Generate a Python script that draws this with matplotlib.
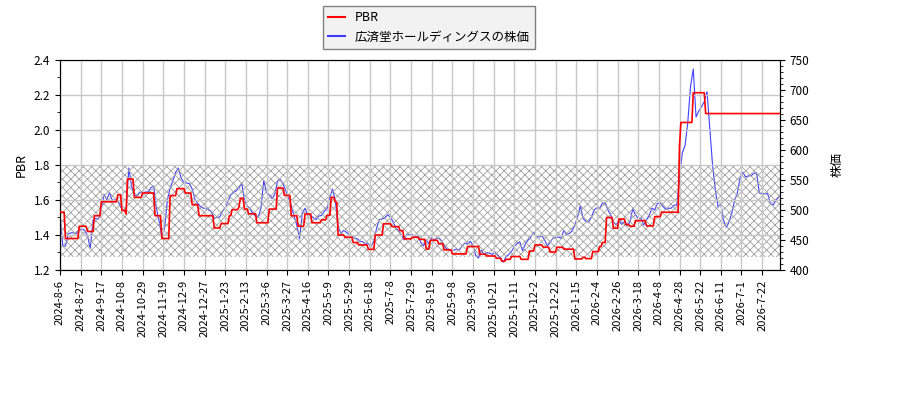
import numpy as np
import matplotlib
matplotlib.use("Agg")
import matplotlib.pyplot as plt
from matplotlib.ticker import MultipleLocator

plt.rcParams['font.family'] = ['Noto Sans CJK JP', 'DejaVu Sans']
plt.rcParams['hatch.linewidth'] = 0.6

# 株価 (2営業日ごとに読み取り)
price = [495, 440, 440, 460, 462, 462, 461, 467, 468, 466, 457, 436, 483, 486, 485,
         500, 526, 517, 529, 516, 517, 515, 505, 500, 500, 570, 539, 525, 524, 530,
         528, 530, 530, 537, 540, 503, 481, 455, 470, 517, 537, 549, 563, 570,
         553, 546, 545, 544, 535, 518, 511, 506, 503, 503, 500, 497, 486, 488, 488,
         498, 504, 514, 525, 529, 532, 537, 545, 516, 507, 502, 494, 490, 488, 503,
         549, 529, 525, 519, 526, 548, 551, 543, 532, 520, 507, 490, 475,
         452, 495, 503, 491, 491, 487, 484, 490, 491, 498, 502, 521, 535, 515, 472,
         461, 466, 463, 459, 457, 453, 452, 448, 447, 443, 444, 439, 449, 470, 484,
         485, 487, 492, 488, 480, 470, 465, 458, 450, 460, 459, 459, 455, 458,
         446, 440, 450, 444, 454, 450, 454, 452, 445, 437, 434, 433, 433, 435, 433,
         440, 445, 443, 448, 441, 424, 420, 433, 426, 429, 428, 426, 430, 425, 420,
         413, 422, 426, 431, 439, 444, 447, 432, 443, 450, 455, 463, 456,
         455, 457, 450, 440, 446, 453, 454, 455, 453, 466, 459, 461, 465, 475, 489,
         507, 486, 481, 480, 488, 500, 504, 503, 511, 512, 500, 492, 480, 475, 483,
         476, 481, 474, 480, 502, 492, 486, 486, 475, 484, 491, 503, 500, 511,
         512, 506, 501, 503, 503, 508, 508, 552, 595, 607, 646, 706, 735, 655, 665,
         672, 681, 697, 635, 575, 534, 505, 510, 483, 471, 480, 495, 516, 528, 554,
         563, 555, 557, 557, 561, 562, 528, 528, 527, 527, 511, 508, 516, 521]

# PBR (変化した営業日と値)
pbr_start = [0, 4, 14, 20, 25, 30, 42, 45, 48, 49, 54, 60, 69, 74, 80, 85, 91, 96,
             101, 112, 117, 123, 125, 130, 131, 134, 137, 143, 152, 158, 163, 168,
             173, 178, 183, 190, 194, 197, 200, 202, 207, 213, 217, 224, 229, 235,
             241, 247, 250, 256, 261, 266, 269, 275, 279, 285, 296, 305, 310, 317,
             321, 324, 328, 335, 341, 345, 351, 356, 361, 366, 374, 380, 382, 387,
             392, 394, 397, 402, 406, 411, 414, 418, 426, 432, 437, 450, 451, 460, 469]
pbr_level = [1.53, 1.38, 1.45, 1.42, 1.51, 1.59, 1.63, 1.54, 1.52, 1.72, 1.615, 1.64,
             1.51, 1.38, 1.625, 1.665, 1.64, 1.573, 1.51, 1.44, 1.465, 1.51, 1.545,
             1.56, 1.61, 1.548, 1.521, 1.47, 1.548, 1.668, 1.626, 1.51, 1.45, 1.52,
             1.47, 1.487, 1.512, 1.615, 1.588, 1.40, 1.387, 1.357, 1.343, 1.318, 1.40,
             1.464, 1.448, 1.425, 1.378, 1.387, 1.375, 1.32, 1.37, 1.35, 1.315, 1.292,
             1.334, 1.29, 1.28, 1.267, 1.25, 1.261, 1.277, 1.261, 1.309, 1.343, 1.33,
             1.303, 1.33, 1.319, 1.263, 1.273, 1.265, 1.305, 1.334, 1.357, 1.50,
             1.439, 1.491, 1.46, 1.45, 1.482, 1.452, 1.505, 1.53, 1.91, 2.043, 2.213,
             2.094]
n_days = 524

tick_labels = ['2024-8-6', '2024-8-27', '2024-9-17', '2024-10-8', '2024-10-29',
               '2024-11-19', '2024-12-9', '2024-12-27', '2025-1-23', '2025-2-13',
               '2025-3-6', '2025-3-27', '2025-4-16', '2025-5-9', '2025-5-29',
               '2025-6-18', '2025-7-8', '2025-7-29', '2025-8-19', '2025-9-8',
               '2025-9-30', '2025-10-21', '2025-11-11', '2025-12-2', '2025-12-22',
               '2026-1-15', '2026-2-4', '2026-2-26', '2026-3-18', '2026-4-8',
               '2026-4-28', '2026-5-22', '2026-6-11', '2026-7-1', '2026-7-22']
tick_step = 15

pbr_band = (1.275, 1.795)

# 日次PBRに展開
lengths = np.diff(pbr_start + [n_days])
pbr = np.repeat(pbr_level, lengths)
days = np.arange(n_days)
price_days = np.arange(len(price)) * 2

fig = plt.figure(figsize=(9, 4), dpi=100)
ax = fig.add_axes([60 / 900, 130 / 400, 720 / 900, 210 / 400])
ax2 = ax.twinx()
ax.set_zorder(ax2.get_zorder() + 1)
ax.patch.set_visible(False)

ax.axhspan(pbr_band[0], pbr_band[1], facecolor='none', edgecolor='#a0a0a0',
           hatch='xxxx', linewidth=0, zorder=0)
l1, = ax.plot(days, pbr, color='red', lw=1.2, label='PBR', zorder=3)
l2, = ax2.plot(price_days, price, color='blue', lw=0.8, alpha=0.75,
               label='広済堂ホールディングスの株価')

ax.set_xlim(0, n_days - 1)
ax.set_ylim(1.2, 2.4)
ax2.set_ylim(400, 750)
ax.yaxis.set_major_locator(MultipleLocator(0.2))
ax.yaxis.set_minor_locator(MultipleLocator(0.1))
ax2.yaxis.set_major_locator(MultipleLocator(50))
ax2.yaxis.set_minor_locator(MultipleLocator(10))

ax.set_xticks(np.arange(len(tick_labels)) * tick_step)
ax.set_xticklabels(tick_labels, rotation=90, fontsize=8)
ax.tick_params(axis='y', labelsize=8.5)
ax2.tick_params(axis='y', labelsize=8.5)
ax.grid(True, color='#c8c8c8', lw=1)
ax2.patch.set_facecolor('white')

ax.set_ylabel('PBR', fontsize=9)
ax2.set_ylabel('株価', fontsize=9, labelpad=15)

leg = fig.legend([l1, l2], [l1.get_label(), l2.get_label()], loc='upper center',
                 bbox_to_anchor=(429 / 900, 1.0), fontsize=9, handlelength=1.3,
                 fancybox=False, edgecolor='#808080', facecolor='#f2f2f2')
leg.get_frame().set_alpha(1)
for h in leg.legend_handles:
    h.set_linewidth(1.5)

fig.savefig('out.png', dpi=100)
